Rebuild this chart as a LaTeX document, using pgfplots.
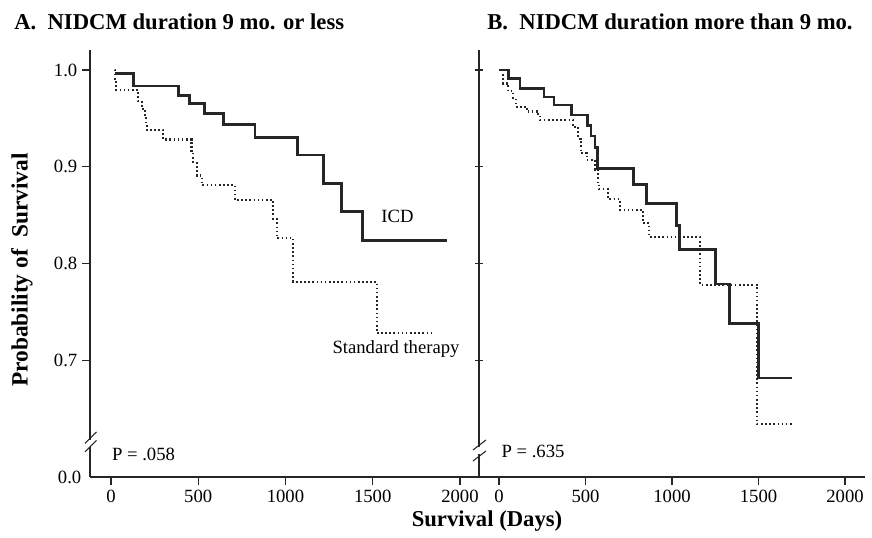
\documentclass[border=0pt]{standalone}
\usepackage{fontspec}
\setmainfont{Liberation Serif}
\usepackage{pgfplots}
\pgfplotsset{compat=1.18}
\begin{document}
\begin{tikzpicture}
\pgfplotsset{
  kmaxis/.style={
    scale only axis, height=320.25pt,
    ymin=0.5791, ymax=1.0207,
    axis lines=left, axis line style={-, line width=0.9pt, black!85},
    tick align=outside, major tick length=6pt,
    tick style={line width=0.8pt, black!85},
    xtick={0,500,1000,1500,2000}, ytick={0.7,0.8,0.9,1.0},
    tick label style={font=\fontsize{14}{16}\selectfont},
    /pgf/number format/assume math mode=true,
    /pgf/number format/1000 sep={},
    clip=false,
  },
  icd/.style={const plot, no marks, line width=2.1pt, black!85},
  std/.style={const plot, no marks, line width=1.7pt, black!85, dash pattern=on 1.2pt off 1.9pt},
}
% panel A
\begin{axis}[kmaxis, at={(67.5pt,45.75pt)}, anchor=south west, width=291.75pt,
  xmin=-120.3, xmax=2108.9,
  yticklabels={0.7,0.8,0.9,1.0},
  extra y ticks={0.5791}, extra y tick labels={0.0},
  extra y tick style={major tick length=0pt, yticklabel style={xshift=-3pt}}]
\addplot[std] coordinates {(23,1.0) (25,0.990) (30,0.979) (156,0.968) (176,0.960) (195,0.950) (200,0.944) (205,0.938) (300,0.928) (462,0.915) (472,0.905) (491,0.891) (520,0.881) (711,0.8655) (930,0.846) (950,0.826) (1045,0.781) (1523,0.728) (1847,0.728)};
\addplot[icd] coordinates {(23,0.996) (128,0.9835) (386,0.974) (449,0.965) (535,0.955) (644,0.944) (825,0.930) (1068,0.912) (1217,0.883) (1322,0.854) (1440,0.8235) (1924,0.8235)};
\end{axis}
% panel B
\begin{axis}[kmaxis, at={(359.25pt,45.75pt)}, anchor=south west, width=289.5pt,
  xmin=-115.6, xmax=2115.6, yticklabels={}, ytick align=center]
\addplot[std] coordinates {(0,1.0) (25,0.986) (54,0.978) (83,0.971) (98,0.962) (160,0.957) (227,0.953) (237,0.948) (429,0.941) (458,0.929) (472,0.914) (507,0.907) (555,0.897) (574,0.883) (580,0.8766) (632,0.8663) (699,0.8552) (834,0.8415) (869,0.827) (1162,0.778) (1491,0.634) (1692,0.634)};
\addplot[icd] coordinates {(5,1.0) (54,0.9914) (121,0.981) (260,0.972) (318,0.9638) (420,0.9535) (510,0.943) (532,0.9317) (555,0.920) (568,0.8983) (776,0.8818) (854,0.8621) (1027,0.839) (1042,0.8145) (1253,0.7787) (1331,0.738) (1499,0.6815) (1694,0.6815)};
\end{axis}
\begin{scope}[x=0.75pt,y=0.75pt]
\useasboundingbox (0,0) rectangle (872,538);
% axis breaks
\fill[white] (87,91) rectangle (94,98);
\draw[line width=0.8pt, black!85] (85,94.5)--(96.5,106) (85,86)--(96.5,97.5);
\fill[white] (476,84) rectangle (483,91);
\draw[line width=0.8pt, black!85] (473,88)--(486,98) (473,77)--(486,87);
% texts
\node[anchor=base west, inner sep=0, font=\fontsize{17}{20}\selectfont\bfseries] at (14,508) {A.~~NIDCM duration 9 mo. or less};
\node[anchor=base west, inner sep=0, font=\fontsize{17}{20}\selectfont\bfseries] at (487,508) {B.~~NIDCM duration more than 9 mo.};
\node[rotate=90, inner sep=0, font=\fontsize{17.5}{20}\selectfont\bfseries] at (22,268) {Probability of~~Survival};
\node[inner sep=0, font=\fontsize{17}{20}\selectfont\bfseries] at (487,17) {Survival (Days)};
\node[inner sep=0, font=\fontsize{14}{16}\selectfont] at (397.5,322) {ICD};
\node[inner sep=0, font=\fontsize{14}{16}\selectfont] at (396,189) {Standard therapy};
\node[inner sep=0, font=\fontsize{14}{16}\selectfont] at (143.5,84) {P = .058};
\node[inner sep=0, font=\fontsize{14}{16}\selectfont] at (533,86.5) {P = .635};
\end{scope}
\end{tikzpicture}
\end{document}
